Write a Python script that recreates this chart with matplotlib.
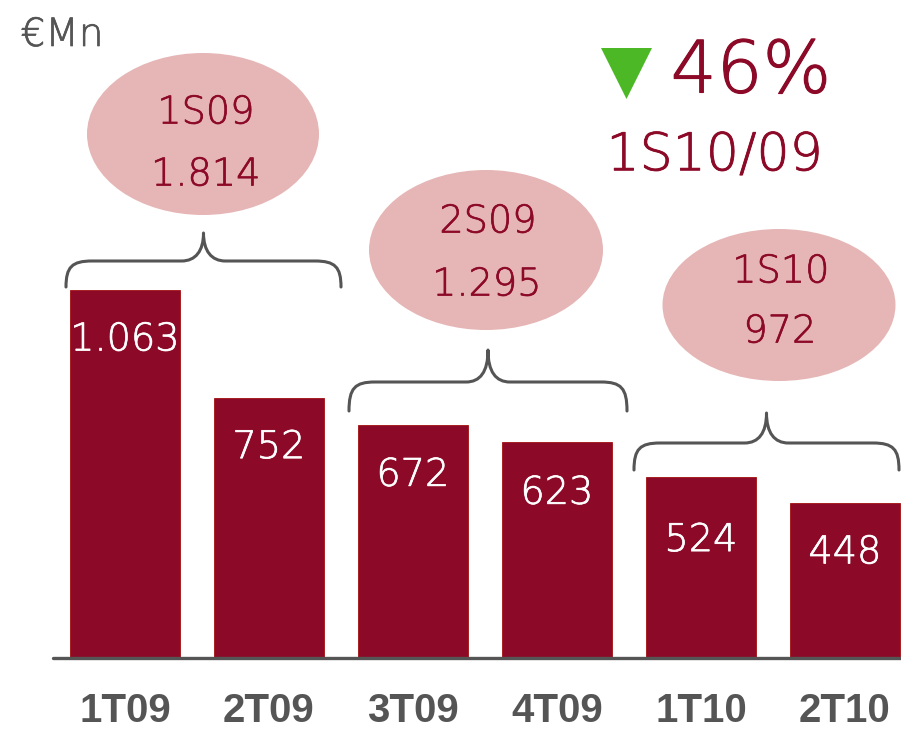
import matplotlib
matplotlib.use("Agg")
import matplotlib.pyplot as plt
from matplotlib.patches import Ellipse, Polygon, PathPatch
from matplotlib.path import Path
import matplotlib.patheffects as pe

# ---- data ----
categories = ["1T09", "2T09", "3T09", "4T09", "1T10", "2T10"]
values = [1063, 752, 672, 623, 524, 448]
semesters = ["1S09", "2S09", "1S10"]
semester_totals = [1814, 1295, 972]
change_pct = "46%"
change_label = "1S10/09"
unit_label = "€Mn"

def fmt(v):
    return f"{v:,}".replace(",", ".")

BAR = "#8c0a28"
PINK = "#e6b6b6"
GRAY = "#555555"
TXT = "DejaVu Sans"
WT = 250

def thick(c, w=0.5):
    return [pe.withStroke(linewidth=w, foreground=c)]

W, H = 901, 729
fig = plt.figure(figsize=(W / 100, H / 100), dpi=100)
fig.patch.set_facecolor("white")

base_px = 658
ax = fig.add_axes([0, 1 - base_px / H, 1, base_px / H])
px_per_unit = 0.3462
ax.set_ylim(0, base_px / px_per_unit)
step = 144.0
c0 = 125.0
ax.set_xlim(-c0 / step, (W - c0) / step)
ax.axis("off")

x = list(range(len(categories)))
ax.bar(x, values, width=0.77, color=BAR, edgecolor="#a01010", linewidth=0.6, zorder=2)

# baseline
ax.axhline(0, xmin=53 / W, xmax=1, color=GRAY, lw=2.4, solid_capstyle="round", zorder=3, clip_on=False)

# bar value labels
offsets = [-50, -50, -50, -51, -64, -50]
for xi, v, off in zip(x, values, offsets):
    ax.annotate(fmt(v), (xi, v), xytext=(0, off * 0.72), textcoords="offset points",
                ha="center", va="center", color="white", fontsize=27.5, family=TXT, fontweight=WT,
                path_effects=thick("white"))

# category labels
for xi, c in zip(x, categories):
    ax.annotate(c, (xi, 0), xytext=(0, -53 * 0.72), textcoords="offset points",
                ha="center", va="center", color=GRAY, fontsize=29,
                family="Liberation Sans", fontweight="bold", annotation_clip=False)

# overlay in pixel coords for decorations
ov = fig.add_axes([0, 0, 1, 1], facecolor="none")
ov.set_xlim(0, W)
ov.set_ylim(H, 0)
ov.axis("off")

ell = [((203, 134), 232, 162), ((486, 250), 234, 160), ((779, 305), 233, 152)]
txt_pos = [((206, 113), (206, 175)), ((488, 222), (487, 285)), ((781, 272), (780, 332))]
for (cen, w, h), s, tot, (p1, p2) in zip(ell, semesters, semester_totals, txt_pos):
    ov.add_patch(Ellipse(cen, w, h, facecolor=PINK, edgecolor="none"))
    ov.text(*p1, s, ha="center", va="center", color=BAR, fontsize=27.5, family=TXT, fontweight=WT,
            path_effects=thick(BAR))
    ov.text(*p2, fmt(tot), ha="center", va="center", color=BAR, fontsize=27.5, family=TXT, fontweight=WT,
            path_effects=thick(BAR))

def brace(x0, x1, yend, yh, ypk):
    xc = (x0 + x1) / 2
    verts = [(x0, yend),
             (x0, yh + 6), (x0 + 6, yh), (x0 + 26, yh),
             (xc - 22, yh),
             (xc - 8, yh), (xc, yh - 10), (xc, ypk),
             (xc, yh - 10), (xc + 8, yh), (xc + 22, yh),
             (x1 - 26, yh),
             (x1 - 6, yh), (x1, yh + 6), (x1, yend)]
    codes = [Path.MOVETO,
             Path.CURVE4, Path.CURVE4, Path.CURVE4,
             Path.LINETO,
             Path.CURVE4, Path.CURVE4, Path.CURVE4,
             Path.CURVE4, Path.CURVE4, Path.CURVE4,
             Path.LINETO,
             Path.CURVE4, Path.CURVE4, Path.CURVE4]
    ov.add_patch(PathPatch(Path(verts, codes), facecolor="none", edgecolor=GRAY, lw=2.2,
                           capstyle="round", joinstyle="round"))

brace(66, 341, 287, 261, 233)
brace(349, 627, 411, 382, 350)
brace(634, 899, 470, 443, 413)

# headline
ov.add_patch(Polygon([(601, 48), (652, 48), (626.5, 99)], closed=True, facecolor="#4cb826", edgecolor="none"))
ov.text(751, 73, change_pct, ha="center", va="center", color=BAR, fontsize=52, family=TXT, fontweight=WT,
        path_effects=thick(BAR, 0.8))
ov.text(715, 156, change_label, ha="center", va="center", color=BAR, fontsize=37.5, family=TXT, fontweight=WT,
        path_effects=thick(BAR, 0.6))
ov.text(62, 35, unit_label, ha="center", va="center", color=GRAY, fontsize=28, family=TXT, fontweight=WT,
        path_effects=thick(GRAY))

fig.savefig("out.png", dpi=100, facecolor="white")
